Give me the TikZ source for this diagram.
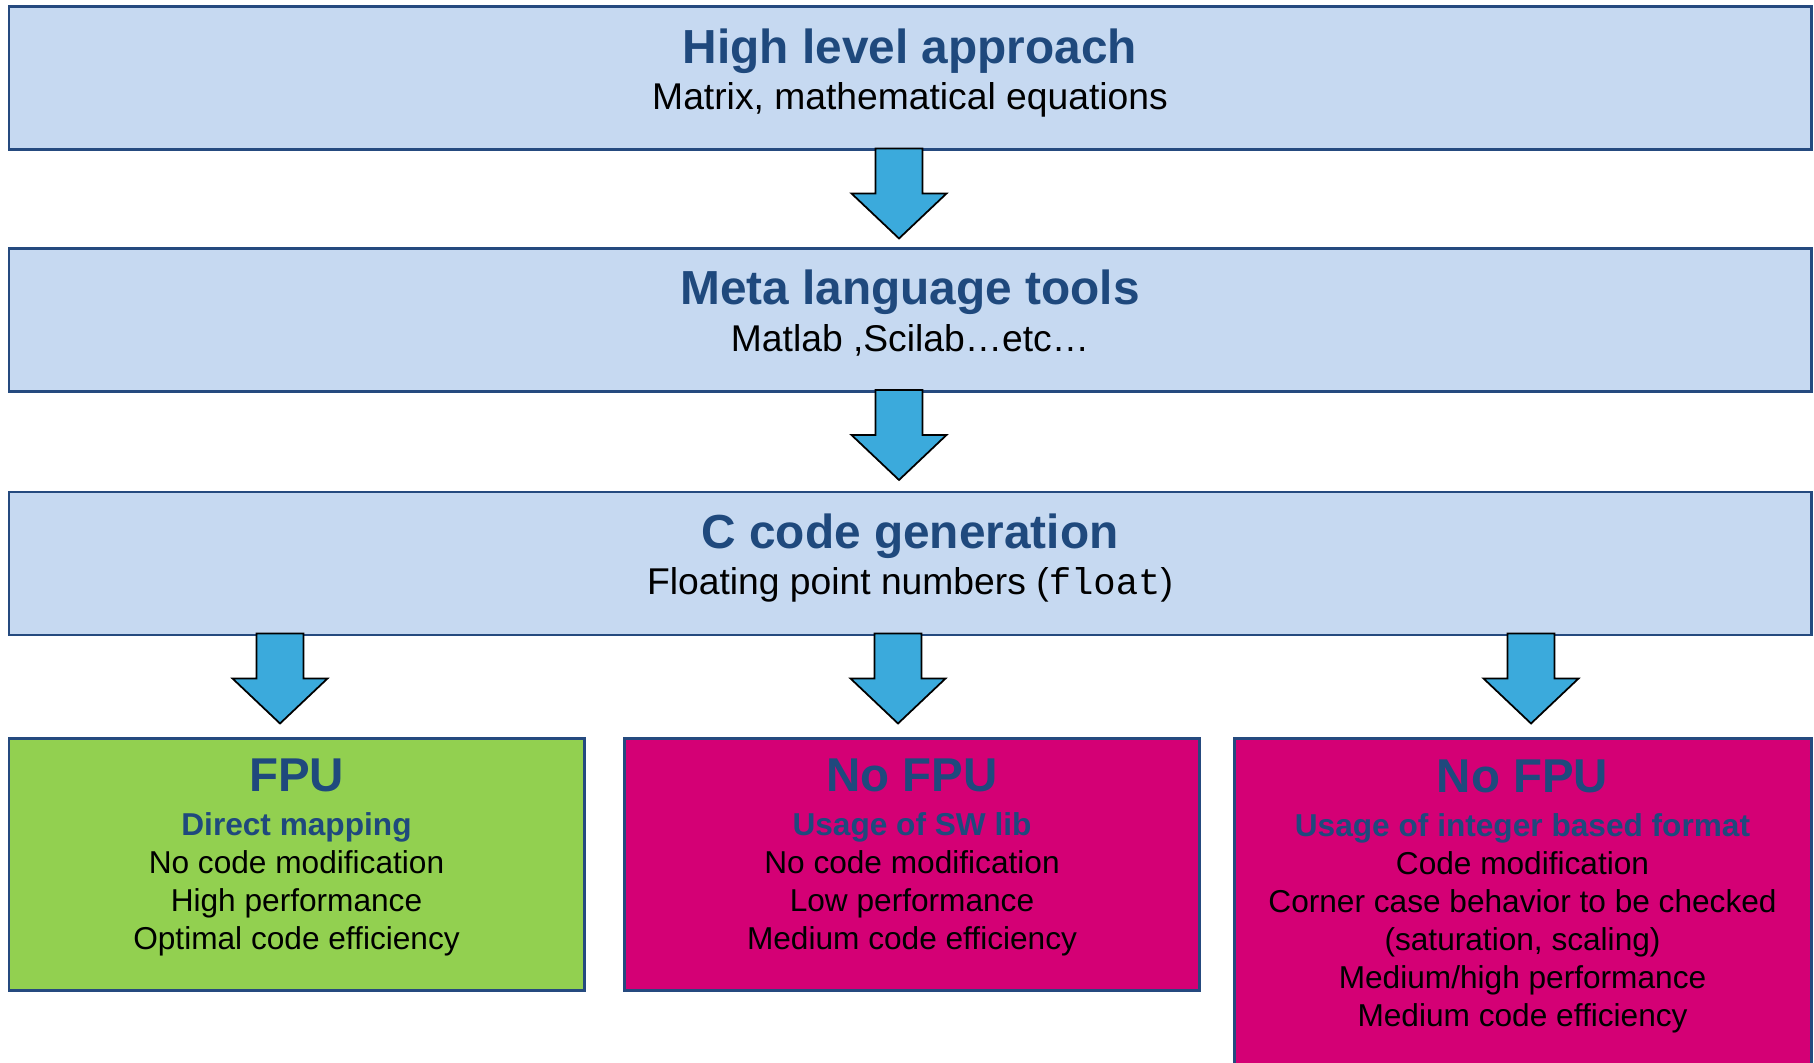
\documentclass[tikz,border=0pt]{standalone}
\usepackage{fontspec}
\setmainfont{Liberation Sans}
\setmonofont{Liberation Mono}
\usetikzlibrary{positioning,calc}
\definecolor{boxblue}{HTML}{C6D9F1}
\definecolor{edgeblue}{HTML}{254A7F}
\definecolor{titleblue}{HTML}{1F497D}
\definecolor{arrowblue}{HTML}{3BAADC}
\definecolor{fpugreen}{HTML}{92D050}
\definecolor{nofpupink}{HTML}{D40075}

\begin{document}
\begin{tikzpicture}[
		every node/.style={align=center},
		level box/.style={draw=edgeblue,line width=0.85pt,fill=boxblue,minimum width=18.02cm,minimum height=1.43cm,inner sep=0pt,font=\fontsize{10.6}{12.5}\selectfont},
		target box/.style={draw=edgeblue,line width=0.85pt,anchor=north,minimum width=5.75cm,minimum height=2.52cm,inner sep=0pt,font=\fontsize{9}{10.8}\selectfont},
		big arrow/.style={draw=black,line width=0.5pt,fill=arrowblue,line join=miter}]
		
		\useasboundingbox (0,0) rectangle (18.14,-10.63);
		
		\node[level box] (box-high) at (9.10,-0.785)
		{\textcolor{titleblue}{\fontsize{13.6}{14}\selectfont\bfseries High level approach}\\[0.7pt]
			Matrix, mathematical equations\rule[-0.19cm]{0pt}{0pt}};
		\node[level box] (box-meta) at (9.10,-3.20)
		{\textcolor{titleblue}{\fontsize{13.6}{14}\selectfont\bfseries Meta language tools}\\[0.7pt]
			Matlab ,Scilab\ldots etc\ldots\rule[-0.19cm]{0pt}{0pt}};
		\node[level box] (box-c) at (9.10,-5.635)
		{\textcolor{titleblue}{\fontsize{13.6}{14}\selectfont\bfseries C code generation}\\[0.7pt]
			Floating point numbers (\texttt{float})\rule[-0.19cm]{0pt}{0pt}};
		
		\node[target box,fill=fpugreen] (box-fpu) at (2.965,-7.37)
		{\textcolor{titleblue}{\fontsize{13.5}{14}\selectfont\bfseries FPU}\\[1.7pt]
			\textcolor{titleblue}{\bfseries Direct mapping}\\
			No code modification\\
			High performance\\
			Optimal code efficiency\rule[-0.21cm]{0pt}{0pt}};
		\node[target box,fill=nofpupink] (box-sw) at (9.12,-7.37)
		{\textcolor{titleblue}{\fontsize{13.5}{14}\selectfont\bfseries No FPU}\\[1.7pt]
			\textcolor{titleblue}{\bfseries Usage of SW lib}\\
			No code modification\\
			Low performance\\
			Medium code efficiency\rule[-0.21cm]{0pt}{0pt}};
		\node[target box,fill=nofpupink,minimum width=5.77cm,minimum height=3.6cm] (box-int) at (15.225,-7.37)
		{\textcolor{titleblue}{\fontsize{13.5}{14}\selectfont\bfseries No FPU}\\[1.7pt]
			\textcolor{titleblue}{\bfseries Usage of integer based format}\\
			Code modification\\
			Corner case behavior to be checked\\
			(saturation, scaling)\\
			Medium/high performance\\
			Medium code efficiency\rule[-0.5cm]{0pt}{0pt}};
		
		\foreach \src/\dx in {box-high/-0.11,box-meta/-0.11,box-c/-6.30,box-c/-0.12,box-c/6.21}
		\draw[big arrow] ($(\src.south)+(\dx,0.03)$) ++(-0.235,0) -- ++(0,-0.45) -- ++(-0.24,0)
		-- ++(0.475,-0.45) -- ++(0.475,0.45) -- ++(-0.24,0) -- ++(0,0.45) -- cycle;
\end{tikzpicture}
\end{document}
